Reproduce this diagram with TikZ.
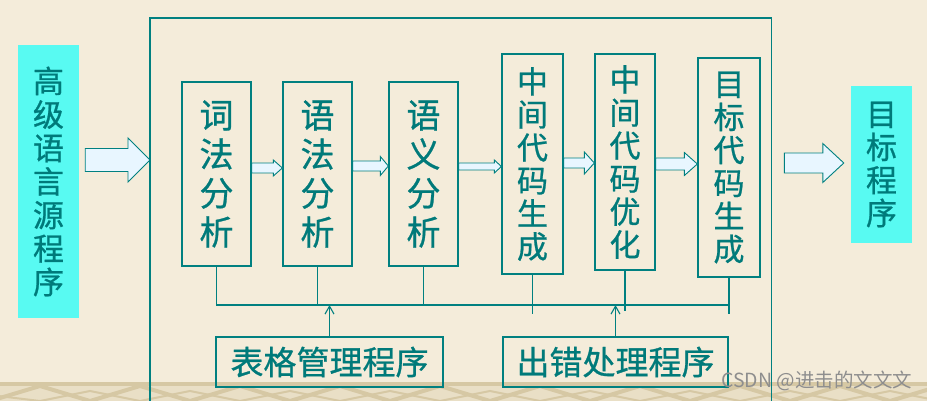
\documentclass[tikz,border=0pt]{standalone}
\usepackage{fontspec}
\newfontfamily\cjk[FakeBold=0.8]{Noto Sans CJK SC}
\newfontfamily\cjkwm{Noto Sans CJK SC}
\usetikzlibrary{calc,arrows.meta}
\definecolor{bg}{HTML}{F4ECDA}
\definecolor{tealline}{HTML}{008080}
\definecolor{tealtext}{HTML}{007A7A}
\definecolor{cyanfill}{HTML}{58FAF2}
\definecolor{arrowfill}{HTML}{E8F6FF}
\definecolor{bandlight}{HTML}{E9DFC6}
\definecolor{banddark}{HTML}{D6C8A4}
\definecolor{wmgray}{HTML}{8E8E8E}
\newcommand\blkarrow[5]{%
  \filldraw[blockarrow] ($(#1)+(0,-#3)$) -- ($(#2)+(-#5,-#3)$) -- ($(#2)+(-#5,-#4)$)
    -- (#2) -- ($(#2)+(-#5,#4)$) -- ($(#2)+(-#5,#3)$) -- ($(#1)+(0,#3)$) -- cycle;}
\begin{document}
\begin{tikzpicture}[x=1pt,y=-1pt,
  stage/.style={draw=tealline, line width=1.3pt, inner sep=0pt, text=tealtext, align=center},
  four/.style={stage, font=\cjk\fontsize{34}{39}\selectfont},
  six/.style={stage, font=\cjk\fontsize{31}{33}\selectfont},
  srcbox/.style={fill=cyanfill, inner sep=0pt, text=tealtext, align=center, font=\cjk\fontsize{31}{33.5}\selectfont},
  helper/.style={stage, font=\cjk\fontsize{33}{36}\selectfont},
  bus/.style={draw=tealline, line width=1.1pt},
  frameline/.style={draw=tealline, line width=1.2pt},
  blockarrow/.style={draw=tealline, fill=arrowfill, line width=0.9pt, line join=miter},
  upar/.style={bus, -{Straight Barb[length=8pt,width=9pt]}},
  wmark/.style={font=\cjkwm\fontsize{19.5}{20}\selectfont, text=wmgray, inner sep=0pt},
]
\useasboundingbox (0,0) rectangle (927,401);
\fill[bg] (0,0) rectangle (927,401);
% bottom decorative band
\fill[bandlight] (0,382) rectangle (927,401);
\fill[banddark] (0,382) rectangle (927,386);
\draw[banddark, line width=4pt] (-10,401)
  \foreach \i in {0,...,9} { -- (\i*100+40,386) -- (\i*100+90,401) };
\draw[banddark, line width=2pt] (-10,395)
  \foreach \i in {0,...,9} { -- (\i*100+40,401) -- (\i*100+90,391) };

% outer frame
\node[inner sep=0pt, minimum width=621pt, minimum height=412pt, anchor=north west] (frame) at (150,18) {};
\draw[frameline] (frame.south west) -- (frame.north west) -- (frame.north east) -- (frame.south east);

% source and target programs
\node[srcbox, minimum width=61pt, minimum height=273pt] (src) at (48.5,181.5) {高\\级\\语\\言\\源\\程\\序};
\node[srcbox, minimum width=61pt, minimum height=157pt, font=\cjk\fontsize{31}{33}\selectfont] (out) at (881.5,164.5) {目\\标\\程\\序};

% stages
\node[four, minimum width=69pt, minimum height=184pt] (lex) at (216.5,174) {词\\法\\分\\析};
\node[four, minimum width=69pt, minimum height=184pt] (syn) at (317.5,174) {语\\法\\分\\析};
\node[four, minimum width=69pt, minimum height=184pt] (sem) at (423.5,174) {语\\义\\分\\析};
\node[six, minimum width=61pt, minimum height=220pt] (icg) at (532.5,164) {中\\间\\代\\码\\生\\成};
\node[six, minimum width=60pt, minimum height=216pt] (opt) at (625,162) {中\\间\\代\\码\\优\\化};
\node[six, minimum width=62pt, minimum height=219pt] (tgt) at (729,167.5) {目\\标\\代\\码\\生\\成};

% helpers
\node[helper, minimum width=227pt, minimum height=50pt] (tbl) at (329.5,362) {表格管理程序};
\node[helper, minimum width=225pt, minimum height=50pt] (err) at (615.5,362) {出错处理程序};

% block arrows
\coordinate (a1s) at ($(src.east|-0,160)+(6,0)$);
\coordinate (a1t) at (frame.west|-0,160);
\blkarrow{a1s}{a1t}{11.5}{22}{22}
\blkarrow{lex.east|-0,168}{syn.west|-0,168}{5}{8}{9}
\blkarrow{syn.east|-0,166}{sem.west|-0,166}{5}{9.5}{8}
\blkarrow{sem.east|-0,166.5}{icg.west|-0,166.5}{3.5}{6.5}{7}
\blkarrow{icg.east|-0,163}{opt.west|-0,163}{5}{11}{10}
\blkarrow{opt.east|-0,164}{tgt.west|-0,164}{6}{11.5}{13}
\coordinate (a2s) at ($(frame.east|-0,163)+(13,0)$);
\coordinate (a2t) at ($(out.west|-0,163)+(-7,0)$);
\blkarrow{a2s}{a2t}{10}{19.5}{21}

% bus
\coordinate (bus) at (0,305);
\draw[bus] (lex.south) -- (lex.south|-bus) -- (tgt.south|-bus);
\draw[bus] (syn.south) -- (syn.south|-bus);
\draw[bus] (sem.south) -- (sem.south|-bus);
\draw[bus] (icg.south) -- ($(icg.south|-bus)+(0,9)$);
\draw[bus] (opt.south) -- ($(opt.south|-bus)+(0,6)$);
\draw[bus] (tgt.south) -- ($(tgt.south|-bus)+(0,9)$);
\draw[upar] (tbl.north) -- (tbl.north|-bus);
\draw[upar] (err.north) -- (err.north|-bus);

% watermark
\node[wmark, anchor=west] (wm) at (721,381) {CSDN @进击的文文文};
\end{tikzpicture}
\end{document}
